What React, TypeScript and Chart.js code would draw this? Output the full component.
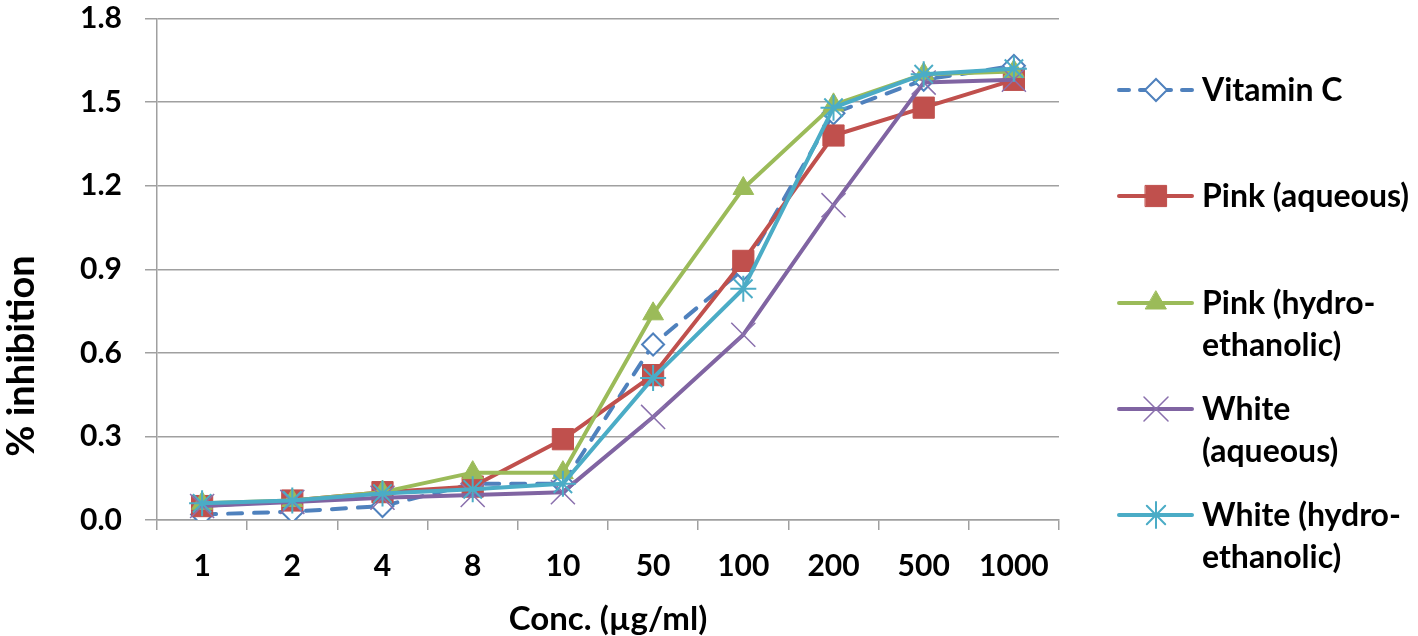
import React, { useEffect, useRef } from 'react';
import { Chart, registerables } from 'chart.js';
import * as helpers from 'chart.js/helpers';

Chart.register(...registerables);

const categories = ['1', '2', '4', '8', '10', '50', '100', '200', '500', '1000'];
const vitaminC = [0.02, 0.03, 0.05, 0.13, 0.13, 0.63, 0.9, 1.46, 1.58, 1.63];
const pinkAqueous = [0.05, 0.07, 0.1, 0.12, 0.29, 0.52, 0.93, 1.38, 1.48, 1.58];
const pinkHydro = [0.06, 0.07, 0.1, 0.17, 0.17, 0.74, 1.19, 1.49, 1.6, 1.61];
const whiteAqueous = [0.05, 0.065, 0.08, 0.09, 0.1, 0.37, 0.665, 1.13, 1.57, 1.58];
const whiteHydro = [0.06, 0.07, 0.095, 0.11, 0.13, 0.51, 0.83, 1.48, 1.6, 1.62];

const seriesNames = ['Vitamin C', 'Pink (aqueous)', 'Pink (hydro-ethanolic)', 'White (aqueous)', 'White (hydro-ethanolic)'];
const legendLines = [
  ['Vitamin C'],
  ['Pink (aqueous)'],
  ['Pink (hydro-', 'ethanolic)'],
  ['White', '(aqueous)'],
  ['White (hydro-', 'ethanolic)'],
];
const xTitle = 'Conc. (µg/ml)';
const yTitle = '% inhibition';
const yMin = 0;
const yMax = 1.8;
const yStep = 0.3;

const FONT = 'Lato';
const GRID = '#a0a0a0';

const styles = [
  { color: '#4F81BD', pointStyle: 'rectRot', radius: 11, fill: '#ffffff', pbw: 2, dash: [14, 12], pcolor: '#4F81BD' },
  { color: '#C0504D', pointStyle: 'rect', radius: 15, fill: '#C0504D', pbw: 1, dash: [], pcolor: '#C0504D' },
  { color: '#9BBB59', pointStyle: 'triangle', radius: 12, fill: '#9BBB59', pbw: 1, dash: [], pcolor: '#9BBB59' },
  { color: '#8064A2', pointStyle: 'crossRot', radius: 17, fill: '#8064A2', pbw: 1.5, dash: [], pcolor: '#8a70ad' },
  { color: '#4BACC6', pointStyle: 'star', radius: 13, fill: '#4BACC6', pbw: 2, dash: [], pcolor: '#4BACC6' },
];

const overlayPlugin = {
  id: 'overlay',
  afterDraw(chart: any) {
    const ctx = chart.ctx;
    const ca = chart.chartArea;
    ctx.save();
    ctx.fillStyle = '#000';
    // y title
    ctx.save();
    ctx.font = `bold 38px ${FONT}`;
    ctx.translate(34, 356);
    ctx.rotate(-Math.PI / 2);
    ctx.textAlign = 'center';
    ctx.textBaseline = 'alphabetic';
    ctx.fillText(yTitle, 0, 0);
    ctx.restore();
    // x title
    ctx.font = `bold 33px ${FONT}`;
    ctx.textAlign = 'center';
    ctx.textBaseline = 'alphabetic';
    ctx.fillText(xTitle, (ca.left + ca.right) / 2, 630);
    // legend
    ctx.font = `bold 32px ${FONT}`;
    const centers = [90, 196, 303, 409, 515];
    legendLines.forEach((lines, i) => {
      const s = styles[i];
      const cy = centers[i];
      ctx.save();
      ctx.strokeStyle = s.color;
      ctx.lineWidth = 4;
      ctx.lineCap = 'round';
      ctx.setLineDash(s.dash.length ? [10, 11] : []);
      ctx.beginPath();
      ctx.moveTo(1119, cy);
      ctx.lineTo(1192, cy);
      ctx.stroke();
      ctx.setLineDash([]);
      ctx.fillStyle = s.fill;
      ctx.strokeStyle = s.pcolor;
      ctx.lineWidth = s.pbw;
      helpers.drawPoint(ctx, { pointStyle: s.pointStyle, radius: s.radius, rotation: 0, borderWidth: s.pbw }, 1156, cy);
      ctx.restore();
      ctx.fillStyle = '#000';
      ctx.textAlign = 'left';
      lines.forEach((t, j) => {
        ctx.fillText(t, 1202, cy + 11 + j * 42);
      });
    });
    ctx.restore();
  },
};

export default function App() {
  const ref = useRef<HTMLCanvasElement>(null);
  useEffect(() => {
    const seriesData = [vitaminC, pinkAqueous, pinkHydro, whiteAqueous, whiteHydro];
    const chart = new Chart(ref.current as HTMLCanvasElement, {
      type: 'line',
      data: {
        labels: categories,
        datasets: seriesData.map((d, i) => ({
          label: seriesNames[i],
          data: d,
          borderColor: styles[i].color,
          borderWidth: 4,
          borderDash: styles[i].dash,
          borderCapStyle: 'round',
          borderJoinStyle: 'round',
          tension: 0,
          fill: false,
          pointStyle: styles[i].pointStyle as any,
          pointRadius: styles[i].radius,
          pointBackgroundColor: styles[i].fill,
          pointBorderColor: styles[i].pcolor,
          pointBorderWidth: styles[i].pbw,
          order: 5 - i,
        })),
      },
      options: {
        animation: false,
        responsive: false,
        layout: { padding: { top: 13, right: 359, bottom: 0, left: 0 } },
        plugins: { legend: { display: false }, tooltip: { enabled: false } },
        scales: {
          x: {
            type: 'category',
            offset: true,
            grid: { display: true, drawOnChartArea: false, drawTicks: true, tickLength: 10, offset: true, color: GRID, lineWidth: 1.5 },
            border: { display: true, color: GRID, width: 1.5 },
            ticks: { color: '#000', font: { family: FONT, size: 30, weight: 'bold' }, padding: 18, maxRotation: 0, autoSkip: false },
            afterFit(scale: any) {
              scale.height = 116;
              scale.paddingLeft = 0;
              scale.paddingRight = 0;
            },
          },
          y: {
            min: yMin,
            max: yMax,
            ticks: {
              stepSize: yStep,
              color: '#000',
              font: { family: FONT, size: 30, weight: 'bold' },
              padding: 23,
              callback: (v: any) => Number(v).toFixed(1),
            },
            grid: { color: GRID, lineWidth: 1.5, drawTicks: true, tickLength: 12 },
            border: { display: true, color: GRID, width: 1.5 },
            afterFit(scale: any) {
              scale.width = 157;
              scale.paddingTop = 0;
              scale.paddingBottom = 0;
            },
          },
        },
      },
      plugins: [overlayPlugin],
    });
    return () => chart.destroy();
  }, []);
  return (
    <div style={{ position: 'absolute', left: 0, top: 0, width: 1418, height: 636, background: '#fff' }}>
      <canvas ref={ref} width={1418} height={636} style={{ display: 'block' }} />
    </div>
  );
}
